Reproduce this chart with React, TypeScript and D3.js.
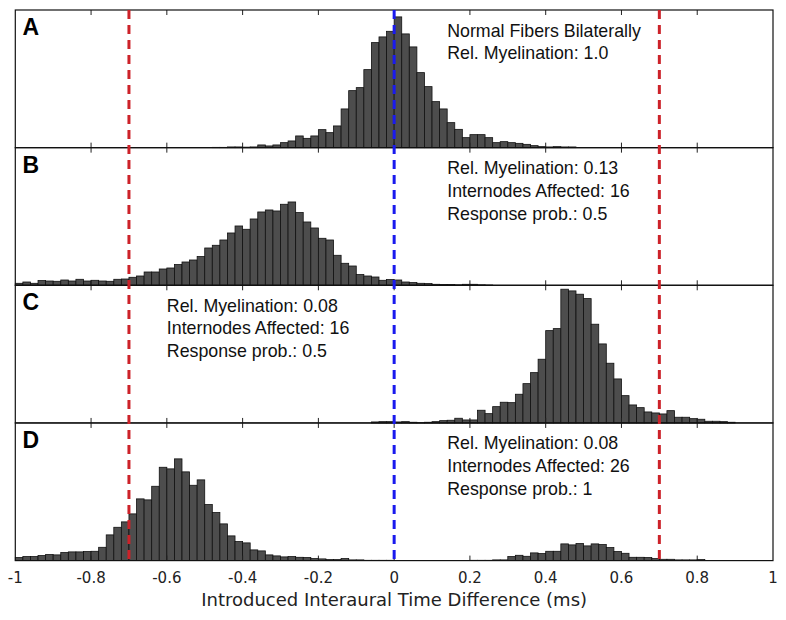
import React from 'react';
import * as d3 from 'd3';

// histogram counts, 100 bins of 0.02 ms from -1 to 1
const countsA = [
  0, 0, 0, 0, 0, 0, 0, 0, 0, 0, 0, 0, 0, 0, 0, 0, 0, 0, 0, 0, 0, 0, 0, 0, 0, 0,
  0.3, 0.3, 0.7, 0.7, 0.5, 0.7, 2.7, 1.7, 2.7, 5, 6.7, 11.7, 9.3, 11.7, 18, 15, 21.7, 38.7, 57, 60, 78, 105, 110.7, 116.3,
  130.7, 113.7, 100.7, 75, 61, 46, 38.7, 25, 18.3, 10, 13, 13, 10, 5, 6, 5, 4.3, 3.3, 2, 1, 0.7, 1, 0.7, 0.7,
  0, 0, 0, 0, 0, 0, 0, 0, 0, 0, 0, 0, 0, 0, 0, 0, 0, 0, 0, 0, 0, 0, 0, 0, 0, 0,
];
const countsB = [
  2, 3.3, 2, 4.7, 4.3, 4, 5.3, 4.3, 6, 4.3, 5, 4.3, 4, 6, 6.3, 8, 9.3, 13.3, 13.3, 16.3, 17.3, 20.7, 23.3, 25.3, 28.7,
  37.3, 40, 45.3, 52.3, 59.3, 56, 66.3, 73.3, 75.3, 74.3, 81, 83.3, 72.7, 63.3, 57.3, 47, 45.3, 30, 22, 19.3, 10.7, 9.3, 8.3, 5, 5.7,
  5.3, 3.3, 2.7, 2, 1.7, 1, 0.7, 0.7, 0.5, 1, 1, 0.5, 0.3, 0, 0, 0, 0, 0, 0, 0, 0, 0, 0, 0, 0,
  0, 0, 0, 0, 0, 0, 0, 0, 0, 0, 0, 0, 0, 0, 0, 0, 0, 0, 0, 0, 0, 0, 0, 0, 0,
];
const countsC = [
  0, 0, 0, 0, 0, 0, 0, 0, 0, 0, 0, 0, 0, 0, 0, 0, 0, 0, 0, 0, 0, 0, 0, 0, 0,
  0, 0, 0, 0, 0, 0, 0, 0, 0, 0, 0, 0, 0, 0, 0, 0, 0, 0, 0, 0, 0, 0, 1, 1.3, 1.3,
  1, 1.3, 0.7, 0.3, 0.7, 1.3, 2.3, 2.7, 4.7, 3, 3, 12.7, 9.3, 16.3, 20.7, 20.3, 28.7, 39.3, 50.3, 63.7,
  92.3, 94.3, 133.7, 132, 128.7, 124.3, 98.7, 79, 59.7, 44, 27.3, 18, 15.3, 11, 10, 9, 12.3, 5.7, 5.7, 4.3,
  3.7, 1.7, 1.7, 1.3, 0.7, 0, 0, 0, 0, 0,
];
const countsD = [
  3, 4, 4, 5, 6, 5.7, 8, 8.7, 8.7, 9, 9.3, 13.3, 25.7, 33.3, 38.7, 46.7, 61.7, 60.7, 74.3, 93.3, 91.7, 101.7, 88.7, 75.3, 80.7,
  56, 48, 36.7, 24.7, 19, 17.7, 10.7, 9.7, 5.7, 4.7, 3.7, 4, 3.3, 3, 2, 1.7, 1, 1, 2, 0.7, 0.7, 0.3, 0.3, 0.3, 0.3,
  0, 0, 0, 0, 0, 0, 0, 0, 0, 0, 0.3, 0.3, 0.3, 0.7, 0.7, 4, 5.3, 4.3, 7.7, 7,
  9.3, 9.3, 16.7, 15.7, 17, 14.7, 16.7, 16, 13, 9, 7.3, 3.3, 3.3, 3, 2, 1.3, 1.3, 0.7, 0.7, 0.7,
  1, 0, 0, 0, 0, 0, 0, 0, 0, 0,
];

const panelLetters = ['A', 'B', 'C', 'D'];
const panelNotes = [
  ['Normal Fibers Bilaterally', 'Rel. Myelination: 1.0'],
  ['Rel. Myelination: 0.13', 'Internodes Affected: 16', 'Response prob.: 0.5'],
  ['Rel. Myelination: 0.08', 'Internodes Affected: 16', 'Response prob.: 0.5'],
  ['Rel. Myelination: 0.08', 'Internodes Affected: 26', 'Response prob.: 1'],
];
const noteX = [0.14, 0.14, -0.6, 0.14]; // left edge of the note, in ms
const xTicks = [-1, -0.8, -0.6, -0.4, -0.2, 0, 0.2, 0.4, 0.6, 0.8, 1];
const redLines = [-0.7, 0.7];
const binWidth = 0.02;

const W = 786, H = 620;
const left = 15.3, right = 773;
const top = 10, bottom = 560.6;
const panelH = (bottom - top) / 4;

export default function App() {
  const allCounts = [countsA, countsB, countsC, countsD];
  const x = d3.scaleLinear().domain([-1, 1]).range([left, right]);
  const y = d3.scaleLinear().domain([0, 137.6]).range([panelH, 0]);

  return (
    <svg width={W} height={H} style={{ position: 'absolute', left: 0, top: 0, background: '#fff' }}>
      {allCounts.map((counts, p) => {
        const y0 = top + p * panelH;
        return (
          <g key={p} transform={`translate(0,${y0})`}>
            {counts.map((c, i) => {
              if (c <= 0) return null;
              const b0 = -1 + i * binWidth;
              return (
                <rect
                  key={i}
                  x={x(b0)}
                  y={y(c)}
                  width={x(b0 + binWidth) - x(b0)}
                  height={panelH - y(c)}
                  fill="#4d4d4d"
                  stroke="#111"
                  strokeWidth={0.8}
                />
              );
            })}
            {/* inward ticks on top and bottom */}
            {xTicks.slice(1, -1).map(t => (
              <g key={t}>
                <line x1={x(t)} x2={x(t)} y1={0} y2={5} stroke="#222" strokeWidth={1} />
                <line x1={x(t)} x2={x(t)} y1={panelH} y2={panelH - 5} stroke="#222" strokeWidth={1} />
              </g>
            ))}
            <rect x={left} y={0} width={right - left} height={panelH} fill="none" stroke="#111" strokeWidth={1.2} />
            <text x={22.5} y={25} fontFamily="Liberation Sans, Arial, sans-serif" fontWeight="bold" fontSize={23} fill="#000">
              {panelLetters[p]}
            </text>
            {panelNotes[p].map((line, k) => (
              <text
                key={k}
                x={x(noteX[p])}
                y={26.5 + k * 22.7}
                fontFamily="Liberation Sans, Arial, sans-serif"
                fontSize={17.8}
                fill="#111"
              >
                {line}
              </text>
            ))}
          </g>
        );
      })}

      {redLines.map(v => (
        <line key={v} x1={x(v)} x2={x(v)} y1={top} y2={bottom} stroke="#cc2229" strokeWidth={3} strokeDasharray="9,6" />
      ))}
      <line x1={x(0)} x2={x(0)} y1={top} y2={bottom} stroke="#1a1aee" strokeWidth={3} strokeDasharray="9,6" />

      {xTicks.map(t => (
        <text
          key={t}
          x={x(t)}
          y={583.3}
          textAnchor="middle"
          fontFamily="DejaVu Sans, Verdana, sans-serif"
          fontSize={15}
          fill="#222"
        >
          {String(t)}
        </text>
      ))}
      <text
        x={(x(-1) + x(1)) / 2}
        y={605.7}
        textAnchor="middle"
        fontFamily="DejaVu Sans, Verdana, sans-serif"
        fontSize={18}
        fill="#222"
      >
        Introduced Interaural Time Difference (ms)
      </text>
    </svg>
  );
}
